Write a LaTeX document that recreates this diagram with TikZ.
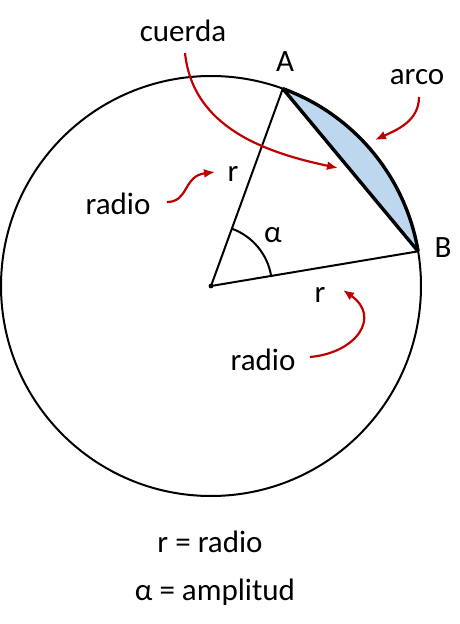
\documentclass[tikz,border=0pt]{standalone}
\usepackage{fontspec}
\setmainfont{Carlito}
\usetikzlibrary{arrows.meta}
\definecolor{arrowred}{HTML}{C00000}
\definecolor{segblue}{HTML}{BDD7EE}
\begin{document}
\begin{tikzpicture}[x=1pt,y=1pt,
    lbl/.style={anchor=base,font=\fontsize{31}{35}\selectfont},
    pointer/.style={-{Latex[length=11pt,width=9pt]},line width=2.2pt,arrowred},
    thin line/.style={line width=2pt},
    thick line/.style={line width=3.4pt,line join=round}]
    \useasboundingbox (-211,-338) rectangle (249,286);

    % Points
    \coordinate (O) at (0,0);
    \coordinate (A) at (70:210);
    \coordinate (B) at (9.5:210);

    % Circle
    \draw[thin line] (O) circle (210pt);

    % Circular segment
    \fill[segblue] (A) arc[start angle=70,end angle=9.5,radius=210pt] -- cycle;
    \draw[thick line] (A) arc[start angle=70,end angle=9.5,radius=210pt];
    \draw[thick line] (A) -- (B);

    % Radii and angle
    \draw[thin line,line join=round] (A) -- (O) -- (B);
    \fill (O) circle (2.4pt);
    \draw[thin line] (9.5:61) arc[start angle=9.5,end angle=70,radius=61pt];

    % Labels
    \node[lbl] (cuerda) at (-28,244) {cuerda};
    \node[lbl] (lblA) at (74,214) {A};
    \node[lbl] (arco) at (206,201) {arco};
    \node[lbl] (lblB) at (232,29) {B};
    \node[lbl] (rup) at (22,104) {r};
    \node[lbl] (radioa) at (-93,71) {radio};
    \node[lbl] (alpha) at (62,44) {α};
    \node[lbl] (rlow) at (109,-16) {r};
    \node[lbl] (radiob) at (52,-84) {radio};
    \node[lbl] (defr) at (-1,-266) {r = radio};
    \node[lbl] (defa) at (4,-314) {α = amplitud};

    % Pointers
    \coordinate (cuerdatip) at (127,118);
    \coordinate (arcotip) at (164,146);
    \coordinate (radioatip) at (4,114);
    \coordinate (radiobtip) at (132,-4);
    \draw[pointer] ([shift={(2,-11)}]cuerda.base) to[out=-84,in=168] (cuerdatip);
    \draw[pointer] ([shift={(2,-12)}]arco.base) to[out=-90,in=25] (arcotip);
    \draw[pointer] ([shift={(13,13)}]radioa.base east) .. controls (-22,84) and (-28,110) .. (radioatip);
    \draw[pointer] ([shift={(11,13)}]radiob.base east) to[out=5,in=-35,looseness=1.6] (radiobtip);
  \end{tikzpicture}
\end{document}
